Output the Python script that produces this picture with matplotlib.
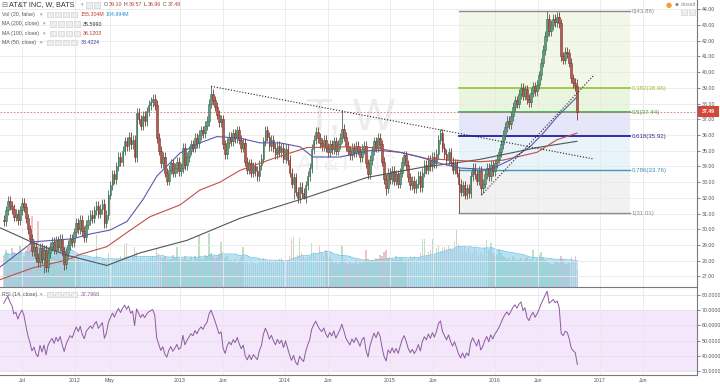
import numpy as np
import pandas as pd
import matplotlib
matplotlib.use("Agg")
import matplotlib.pyplot as plt
from matplotlib.patches import Rectangle

plt.rcParams["font.family"] = ["Liberation Sans", "DejaVu Sans"]

W, H = 720, 384

# weekly closes, AT&T (T), Apr 2011 - Oct 2016
closes = [
    # Apr-Jul 2011
    30.5, 31.2, 31.8, 31.5, 31.3, 30.8, 31.0, 30.6, 31.2, 31.7, 31.4, 30.7,
    # Jul-Sep 2011
    30.0, 29.4, 28.6, 28.9, 28.2, 27.9, 28.8, 28.1, 28.7, 27.6, 28.5,
    # Sep-Dec 2011
    28.9, 29.2, 28.7, 29.3, 28.9, 29.4, 28.6, 27.8, 28.5, 29.0, 29.4, 29.2,
    # 2012
    29.8, 30.4, 30.0, 30.6, 29.9, 29.5,
    30.3, 30.6, 30.9, 30.7, 31.2, 31.5, 31.0, 31.3, 31.6, 30.4, 30.9,
    32.2, 32.8, 33.5, 33.2, 34.0, 34.6, 34.3,
    35.0, 35.6, 35.3, 35.9, 35.4, 35.7, 34.6,
    37.4, 37.0, 36.6, 37.2, 36.9, 37.5, 37.9, 38.1,
    38.3, 37.9, 35.8,
    35.0, 34.2, 34.6, 33.6, 33.1,
    33.8, 34.2, 33.6, 33.9, 34.3, 33.7, 33.9,
    # 2013
    35.2, 34.1, 34.6,
    35.0, 35.4, 35.2, 35.8, 35.5, 36.0, 36.3, 36.1, 36.6, 36.9,
    38.0, 38.6, 38.2, 37.8,
    37.3, 36.8, 37.0, 35.4, 34.8, 35.5, 35.9,
    35.6, 36.1, 35.8, 36.3, 35.7, 35.2, 35.5,
    34.3, 33.8, 34.2, 33.6, 34.0, 33.7, 33.4, 34.1, 34.5,
    35.6, 36.3, 35.9, 35.3, 35.7, 35.2,
    34.8, 35.3, 34.9, 35.2, 34.5, 35.1, 34.4,
    # 2014
    33.6, 32.9, 33.3, 32.4, 32.0, 32.7, 32.3, 32.0,
    32.8, 33.4, 33.9,
    35.1, 35.7, 36.2, 35.8, 35.5,
    35.3, 35.7, 35.2, 34.9, 35.4, 35.1, 35.6, 35.0, 35.4, 35.8,
    36.4, 35.9, 35.3,
    35.0, 34.7, 35.2, 34.9, 35.3, 35.0, 34.6, 35.1,
    35.3, 34.2, 33.5, 34.4, 35.0,
    35.6, 35.2, 35.8, 35.4,
    34.3, 33.2, 32.6, 33.6,
    # 2015
    33.2, 33.7, 33.1, 33.5, 32.9, 33.6,
    34.3, 34.7, 34.1,
    33.3, 32.8, 33.1, 32.6, 32.9, 33.4, 32.7,
    33.6, 34.1, 33.8, 34.4, 34.0, 34.6, 34.2, 34.8,
    35.7, 36.1, 35.2,
    34.8, 34.4, 34.9, 34.3, 33.8, 34.2, 33.6,
    32.9, 32.4, 32.8, 32.2, 32.6, 32.3,
    33.4, 33.9, 33.5, 33.1, 33.7, 32.6, 32.9,
    33.5, 33.9, 33.4, 34.1, 33.7, 34.2, 34.5,
    # 2016
    34.9, 35.4, 36.0,
    36.5, 36.9, 36.7, 37.2,
    37.8, 38.2, 38.0,
    38.6, 39.0, 38.5, 38.9, 38.3, 38.1, 38.7, 39.1, 38.8, 39.2,
    39.8, 40.6, 41.4, 42.3, 43.4,
    42.6, 43.0, 43.4, 43.2, 43.5, 43.1,
    41.0, 40.8, 41.3,
    41.2, 40.6, 39.6,
    39.3, 39.10, 37.49,
]

# weekly volume, millions
volumes = [
    190, 230, 205, 175, 240, 215, 185, 200, 260, 215, 195, 230,
    250, 280, 440, 300, 265, 410, 240, 225, 200, 185, 215,
    230, 205, 190, 255, 210, 225, 180, 245, 200, 175, 160, 195,
    190, 170, 185, 160, 175, 155,
    165, 150, 160, 140, 175, 320, 150, 145, 165, 170, 155,
    210, 195, 170, 165, 180, 175, 190,
    160, 265, 270, 175, 160, 185, 250,
    220, 165, 180, 155, 170, 160, 175, 185,
    190, 170, 240,
    210, 185, 180, 195, 170,
    165, 175, 200, 180, 245, 170, 160,
    175, 190, 165,
    170, 185, 160, 195, 175, 320, 180, 165, 200, 190,
    335, 210, 195, 175,
    185, 205, 280, 215, 180, 195, 170,
    165, 160, 175, 150, 170, 185, 250,
    165, 155, 140, 170, 160, 150, 145, 165, 155,
    180, 175, 160, 170, 150, 155,
    165, 160, 175, 180, 155, 185, 170,
    190, 300, 310, 180, 200, 305, 210, 190,
    175, 185, 195,
    270, 220, 205, 175, 260,
    210, 190, 230, 200, 185, 165, 150, 160, 145, 155,
    260, 170, 150,
    145, 155, 140, 150, 165, 145, 160, 150,
    170, 230, 175, 160, 170,
    165, 180, 175, 200,
    195, 215, 230, 180,
    185, 175, 170, 190, 165, 180,
    175, 160, 165,
    175, 195, 180, 190, 170, 185, 210,
    300, 295, 200, 215, 230, 300, 205, 240,
    260, 225, 245,
    250, 235, 260, 240, 230, 280, 355,
    265, 245, 230, 255, 215, 240,
    225, 210, 235, 220, 200, 215, 205,
    250, 290, 230, 270, 210, 195, 200,
    235, 210, 190,
    185, 175, 180, 170,
    190, 175, 165,
    170, 180, 160, 175, 185, 165, 170, 230, 160, 175,
    200, 215, 185, 170, 160,
    150, 145, 140, 155, 160, 150,
    195, 165, 145,
    140, 150, 185,
    160, 190, 105,
]

# closes before the visible window (Jan-Apr 2011), only to seed the RSI
pre_closes = [29.4, 29.9, 29.2, 28.1, 27.6, 27.9, 28.3, 28.0,
              27.8, 28.6, 29.3, 30.2, 30.6, 30.4, 30.9, 30.6]

# wick extremes that stick out on the chart (week index: price)
high_marks = {75: 38.6, 103: 39.15, 168: 37.6, 270: 43.88, 285: 39.57}
low_marks = {20: 27.25, 30: 27.4, 144: 31.95, 149: 31.9, 190: 32.2,
             226: 31.01, 237: 32.19, 285: 36.96}

# moving averages as drawn (decimal year, price)
ma50_year = [2011.286, 2011.600, 2011.790, 2011.981, 2012.143, 2012.333, 2012.495,
             2012.648, 2012.781, 2013.000, 2013.190, 2013.352, 2013.571, 2013.762,
             2013.952, 2014.143, 2014.267, 2014.524, 2014.838, 2015.095, 2015.286,
             2015.476, 2015.667, 2015.952, 2016.143, 2016.333, 2016.457, 2016.590,
             2016.781]
ma50_val = [27.6, 29.2, 29.3, 29.4, 29.7, 29.95, 30.5, 31.9, 33.4, 34.85, 35.5, 35.9,
            35.8, 35.5, 35.5, 35.25, 34.6, 34.6, 35.05, 34.9, 34.6, 34.2, 33.9, 33.8,
            34.4, 35.25, 36.1, 37.15, 38.42]
ma100_year = [2011.286, 2011.600, 2011.924, 2012.048, 2012.305, 2012.495, 2012.714,
              2013.000, 2013.190, 2013.381, 2013.571, 2013.886, 2014.210, 2014.524,
              2014.838, 2015.095, 2015.352, 2015.600, 2015.857, 2016.076, 2016.400,
              2016.590, 2016.781]
ma100_val = [26.8, 27.55, 28.05, 28.4, 28.9, 29.8, 30.8, 31.55, 32.5, 33.0, 33.75,
             34.5, 35.2, 35.25, 35.2, 34.9, 34.5, 34.4, 34.3, 34.4, 34.9, 35.7, 36.12]
ma200_year = [2011.286, 2011.600, 2011.924, 2012.305, 2012.619, 2013.067, 2013.571,
              2014.171, 2014.781, 2015.067, 2015.352, 2015.600, 2015.857, 2016.400,
              2016.781]
ma200_val = [30.1, 29.15, 28.35, 27.7, 28.5, 29.3, 30.7, 31.95, 33.3, 33.65, 34.0,
             34.2, 34.45, 35.2, 35.6]

# dotted trend lines (decimal year, price)
trend_down = ([2013.296, 2016.936], [39.1, 34.48])
trend_up = ([2015.873, 2016.936], [32.19, 39.76])

# fibonacci retracement
fib_span = (2015.653, 2017.286)
fib_levels = [0, 0.382, 0.5, 0.618, 0.786, 1]
fib_prices = [43.88, 38.96, 37.44, 35.92, 33.76, 31.01]
fib_line_colors = ["#8c8c8c", "#9cc545", "#4caf50", "#1f1f9e", "#3f98bd", "#8c8c8c"]
fib_text_colors = ["#8a8a8a", "#a3b83a", "#4a9e4a", "#2b2b8f", "#3a90b4", "#8a8a8a"]
fib_fills = ["#f1f8e8", "#e9f5df", "#e6e5fa", "#e8f3fa", "#f1f1f1"]

tick_years = [2011.5, 2012.0, 2012.333, 2013.0, 2013.414, 2014.0, 2014.414,
              2015.0, 2015.414, 2016.0, 2016.414, 2017.0, 2017.414]
tick_labels = ["Jul", "2012", "May", "2013", "Jun", "2014", "Jun",
               "2015", "Jun", "2016", "Jun", "2017", "Jun"]

# ---------------------------------------------------------------- derived
n = len(closes)
week = 7 / 365.25
t = 2016.784 - week * np.arange(n - 1, -1, -1)
c = np.array(closes)
o = np.r_[pre_closes[-1], c[:-1]]
hi = np.maximum(o, c) + 0.3
lo = np.minimum(o, c) - 0.3
for k, v in high_marks.items():
    hi[k] = v
for k, v in low_marks.items():
    lo[k] = v
up = c >= o

allc = pd.Series(np.r_[pre_closes, closes])
d = allc.diff()
gain = d.clip(lower=0).ewm(alpha=1 / 14, adjust=False).mean()
loss = (-d.clip(upper=0)).ewm(alpha=1 / 14, adjust=False).mean()
rsi = (100 - 100 / (1 + gain / loss)).values[-n:]

vol_ma = pd.Series(volumes).rolling(20, min_periods=1).mean().values


def fx(px):
    return px / W


def fy(py):
    return 1 - py / H


XMIN, XMAX = 2011.286, 2017.924
GRID = "#e9e9e9"
AXC = "#7a7a7a"
TXT = "#555555"

fig = plt.figure(figsize=(7.2, 3.84), dpi=100)
fig.patch.set_facecolor("white")

axv = fig.add_axes([0, fy(287), fx(697), 287 / H])
ax = fig.add_axes([0, fy(287), fx(697), 287 / H], sharex=axv)
axr = fig.add_axes([0, fy(375), fx(697), 88 / H], sharex=axv)
axv.set_zorder(1)
ax.set_zorder(2)
ax.patch.set_visible(False)

# volume + its moving average
vcols = np.where(up, "#bfdfc3", "#edc4c4")
axv.bar(t, volumes, width=0.75 * week, color=vcols, lw=0)
axv.fill_between(t, vol_ma, color="#86cdee", alpha=0.6, lw=0)
axv.plot(t, vol_ma, color="#64bde6", lw=0.5)
axv.set_ylim(0, 1780)
axv.axis("off")

# price panel
ax.set_xlim(XMIN, XMAX)
ax.set_ylim(26.33, 44.59)
for v in range(27, 45):
    ax.axhline(v, color=GRID, lw=0.6, zorder=1)
for x in tick_years:
    ax.axvline(x, color=GRID, lw=0.6, zorder=1)

for i in range(5):
    ax.fill_between(fib_span, fib_prices[i + 1], fib_prices[i],
                    color=fib_fills[i], lw=0, zorder=0.5)
for lev, p, lc, tc in zip(fib_levels, fib_prices, fib_line_colors, fib_text_colors):
    lw = 1.3 if lev in (0.382, 0.5, 0.618) else 1.0
    ax.plot(fib_span, [p, p], color=lc, lw=lw, zorder=2)
    ax.text(2017.305, p, f"{lev:g}({p:.2f})", fontsize=4.4, color=tc,
            va="center", ha="left", zorder=2)

ax.text(fx(350), fy(118), "T, W", transform=fig.transFigure, fontsize=32,
        color="#ececec", ha="center", va="center", zorder=0.8)
ax.text(fx(347), fy(165), "AT&T INC", transform=fig.transFigure, fontsize=16,
        color="#f0f0f0", ha="center", va="center", zorder=0.8)

ax.axhline(closes[-1], color="#d27070", lw=0.6, ls=(0, (2, 2)), zorder=2)

wick_cols = np.where(up, "#3f6d55", "#7b3730")
body_cols = np.where(up, "#5e9b79", "#b25a4f")
ax.vlines(t, lo, hi, colors=wick_cols, lw=0.6, zorder=3)
ax.bar(t, np.maximum(np.abs(c - o), 0.05), bottom=np.minimum(o, c),
       width=0.8 * week, color=body_cols, edgecolor=wick_cols, lw=0.4, zorder=4)

ax.plot(ma200_year, ma200_val, color="#555555", lw=0.8, zorder=5)
ax.plot(ma100_year, ma100_val, color="#c0504a", lw=0.8, zorder=5)
ax.plot(ma50_year, ma50_val, color="#5a5aa8", lw=0.8, zorder=5)

ax.plot(*trend_down, color="#222222", lw=0.8, ls=(0, (1, 1.6)), zorder=6)
ax.plot(*trend_up, color="#222222", lw=0.8, ls=(0, (1, 1.6)), zorder=6)

ax.yaxis.tick_right()
ax.set_yticks(range(27, 45))
ax.set_yticklabels([f"{v:.2f}" for v in range(27, 45)])
ax.tick_params(axis="y", labelsize=3.8, colors=TXT, length=2, width=0.5, pad=1.5)
ax.tick_params(axis="x", bottom=False, labelbottom=False)
for s in ("top", "left"):
    ax.spines[s].set_visible(False)
for s in ("right", "bottom"):
    ax.spines[s].set_color(AXC)
    ax.spines[s].set_linewidth(0.8)

# RSI panel
axr.set_ylim(27.37, 85.26)
axr.fill_between([XMIN, XMAX], 30, 70, color="#f4e7fb", lw=0, zorder=0)
for v in range(30, 90, 10):
    axr.axhline(v, color="#e6e0ea", lw=0.6, zorder=1)
for x in tick_years:
    axr.axvline(x, color=GRID, lw=0.6, zorder=1)
axr.plot(t, rsi, color="#8d5a9e", lw=0.7, zorder=3)
axr.yaxis.tick_right()
axr.set_yticks(range(30, 90, 10))
axr.set_yticklabels([f"{v:.4f}" for v in range(30, 90, 10)])
axr.tick_params(axis="y", labelsize=3.8, colors=TXT, length=2, width=0.5, pad=1.5)
axr.set_xticks(tick_years)
axr.set_xticklabels(tick_labels)
axr.tick_params(axis="x", labelsize=3.8, colors=TXT, length=0, pad=2)
axr.set_xlim(XMIN, XMAX)
for s in ("top", "left"):
    axr.spines[s].set_visible(False)
for s in ("right", "bottom"):
    axr.spines[s].set_color(AXC)
    axr.spines[s].set_linewidth(0.8)

# last price tag on the scale
fig.add_artist(Rectangle((fx(697), fy(117)), fx(22), 11 / H,
                         transform=fig.transFigure, color="#d3473b", lw=0))
fig.text(fx(708), fy(111.5), "37.49", color="white", fontsize=3.8,
         ha="center", va="center", weight="bold")


# legend block top left
def boxes(x0, y, k):
    for j in range(k):
        fig.add_artist(Rectangle((fx(x0 + 8 * j), fy(y + 2.5)), fx(6), 5 / H,
                                 transform=fig.transFigure, facecolor="#eeeeee",
                                 edgecolor="#c8c8c8", lw=0.4))


def txt(x, y, s, color=TXT, size=3.8, **kw):
    fig.text(fx(x), fy(y), s, color=color, fontsize=size, va="center", ha="left", **kw)


txt(1, 5, "⊟", color="#777777", size=5.2, family=["DejaVu Sans"])
txt(9, 5, "AT&T INC, W, BATS", color="#333333", size=5.2)
txt(81, 5, "▾", color="#999999", size=3.5, family=["DejaVu Sans"])
boxes(86, 5, 2)
for x, lab, xv, val in [(104, "O", 109, "39.10"), (124, "H", 128.5, "39.57"),
                        (143.5, "L", 147.5, "36.96"), (162.5, "C", 167.5, "37.49")]:
    txt(x, 5, lab, color="#444444")
    txt(xv, 5, val, color="#c0392b")

rows = [
    (14.7, "Vol (20, false)", 40, 47, [(81, "155.304M", "#c0392b"), (106, "104.994M", "#2a8fd0")]),
    (24.0, "MA (200, close)", 43, 50, [(83, "35.5990", "#333333")]),
    (33.3, "MA (100, close)", 43, 50, [(83, "36.1203", "#c0392b")]),
    (42.7, "MA (50, close)", 40, 47, [(81, "38.4224", "#3b3b9b")]),
]
for y, name, xa, xb, vals in rows:
    txt(2, y, name)
    txt(xa, y, "▾", color="#999999", size=3.5, family=["DejaVu Sans"])
    boxes(xb, y, 4)
    for xv, s, col in vals:
        txt(xv, y, s, color=col)

txt(2, 294.3, "RSI (14, close)")
txt(40, 294.3, "▾", color="#999999", size=3.5, family=["DejaVu Sans"])
boxes(47, 294.3, 4)
txt(81, 294.3, "37.7968", color="#8d5a9e")

# market status top right
txt(666, 5, "●", color="#f0a030", size=5, family=["DejaVu Sans"])
txt(675, 5, "●", color="#888888", size=3.2, family=["DejaVu Sans"])
txt(681, 5, "closed", color="#888888")
boxes(681, 12, 2)

fig.savefig("out.png", dpi=100, facecolor="white")
